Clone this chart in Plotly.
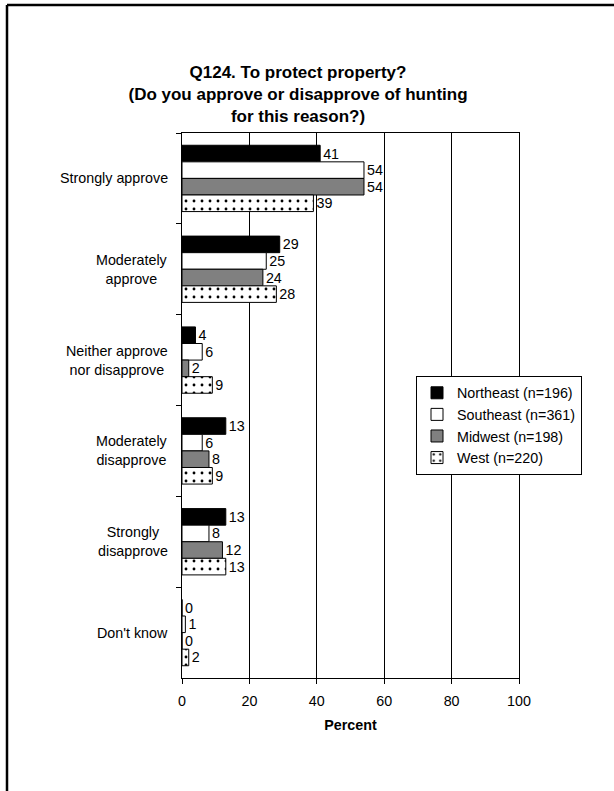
import plotly.graph_objects as go

categories = ["Strongly approve", "Moderately approve", "Neither approve nor disapprove",
              "Moderately disapprove", "Strongly disapprove", "Don't know"]
cat_labels = ["Strongly approve", "Moderately<br>approve", "Neither approve<br>nor disapprove",
              "Moderately<br>disapprove", "Strongly<br>disapprove", "Don't know"]
series_names = ["Northeast (n=196)", "Southeast (n=361)", "Midwest (n=198)", "West (n=220)"]
northeast = [41, 29, 4, 13, 13, 0]
southeast = [54, 25, 6, 6, 8, 1]
midwest = [54, 24, 2, 8, 12, 0]
west = [39, 28, 9, 9, 13, 2]
x_ticks = [0, 20, 40, 60, 80, 100]

FONT = "Arial, 'Liberation Sans', sans-serif"
FS = 14.3

fig = go.Figure()
styles = [
    dict(color="black"),
    dict(color="white"),
    dict(color="#808080"),
    dict(color="white", pattern=dict(shape=".", fgcolor="black", bgcolor="white",
                                     fgopacity=1, size=8, solidity=0.1)),
]
for name, vals, st in zip(series_names, [northeast, southeast, midwest, west], styles):
    fig.add_trace(go.Bar(
        y=categories, x=vals, name=name, orientation="h",
        marker=dict(line=dict(color="black", width=1), **st),
        text=[str(v) for v in vals], textposition="outside",
        textfont=dict(family=FONT, size=FS, color="black"),
        cliponaxis=False,
    ))

for cat, lab in zip(categories, cat_labels):
    fig.add_annotation(
        x=-0.035, xref="paper", y=cat, yref="y", text=lab, showarrow=False,
        xanchor="right", align="center", font=dict(family=FONT, size=FS, color="black"),
    )

# page border (top and left)
top_y = (678 - 5) / 545
left_x = (7 - 182) / 337
fig.add_shape(type="line", xref="paper", yref="paper", x0=left_x, x1=(614 - 182) / 337,
              y0=top_y, y1=top_y, line=dict(color="black", width=2.5))
fig.add_shape(type="line", xref="paper", yref="paper", x0=left_x, x1=left_x,
              y0=top_y, y1=-113 / 545, line=dict(color="black", width=2.5))

fig.update_layout(
    width=614, height=791,
    margin=dict(l=182, r=95, t=133, b=113),
    paper_bgcolor="white", plot_bgcolor="white",
    barmode="group", bargap=0.27, bargroupgap=0.0,
    font=dict(family=FONT, size=FS, color="black"),
    title=dict(
        text="<b>Q124. To protect property?<br>(Do you approve or disapprove of hunting<br>for this reason?)</b>",
        x=298 / 614, xanchor="center", y=1 - 78 / 791, yanchor="top",
        font=dict(family=FONT, size=17, color="black"),
    ),
    xaxis=dict(
        range=[0, 100], tickvals=x_ticks, showgrid=True, gridcolor="black", gridwidth=1,
        showline=True, linecolor="black", linewidth=1, mirror=True,
        ticks="outside", ticklen=5, tickcolor="black", zeroline=False,
        ticklabelstandoff=5,
        title=dict(text="<b>Percent</b>", font=dict(family=FONT, size=FS), standoff=11),
        tickfont=dict(family=FONT, size=FS),
    ),
    yaxis=dict(
        autorange="reversed", showticklabels=False, showline=True, linecolor="black",
        linewidth=1, mirror=True, ticks="outside", ticklen=5, tickcolor="black",
        tickson="boundaries", showgrid=False,
    ),
    legend=dict(
        x=(416 - 182) / 337, xanchor="left", y=(678 - 376) / 545, yanchor="top",
        bordercolor="black", borderwidth=1, bgcolor="white", traceorder="normal",
        font=dict(family=FONT, size=FS), itemwidth=30, tracegroupgap=0,
    ),
    showlegend=True,
)

fig.write_html("out.html", config={"displayModeBar": False},
               post_script="document.body.style.margin='0';")
